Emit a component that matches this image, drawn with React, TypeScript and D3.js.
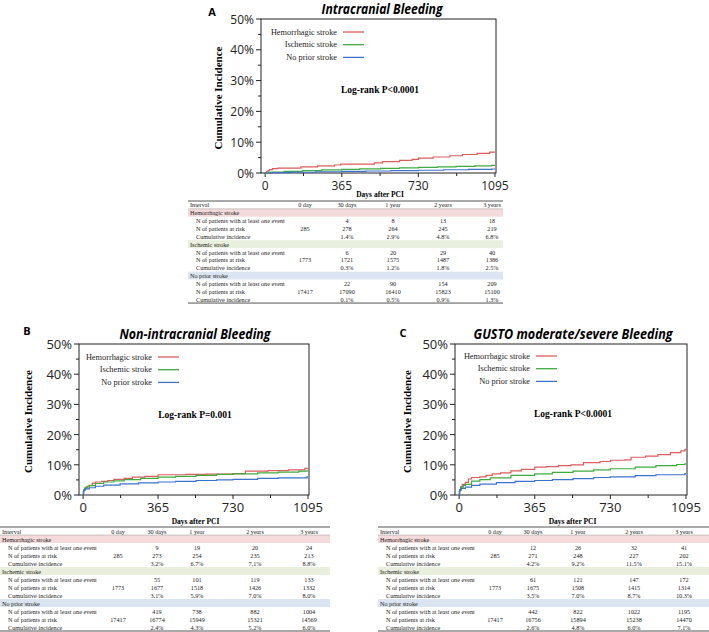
import React from "react";
import * as d3 from "d3";

// ---------- data ----------
const xTicks = [0, 365, 730, 1095];
const xMinorTicks = [182.5, 547.5, 912.5];
const yTicks = [0, 10, 20, 30, 40, 50];
const yMinorTicks = [5, 15, 25, 35, 45];
const seriesNames = ["Hemorrhagic stroke", "Ischemic stroke", "No prior stroke"];
const intervalLabels = ["0 day", "30 days", "1 year", "2 years", "3 years"];
const rowLabels = ["N of patients with at least one event", "N of patients at risk", "Cumulative incidence"];

// Panel A: intracranial bleeding ([day, cumulative %])
const ichHemorrhagic: [number, number][] = [[0, 0], [6, 0.4], [12, 0.7], [20, 1.1], [35, 1.4], [60, 1.6], [170, 2.0], [250, 2.3], [330, 2.6], [360, 2.9], [520, 3.3], [560, 3.7], [640, 4.1], [700, 4.4], [730, 4.8], [800, 5.2], [880, 5.6], [940, 6.0], [1010, 6.4], [1070, 6.8], [1095, 6.8]];
const ichIschemic: [number, number][] = [[0, 0], [10, 0.1], [20, 0.2], [30, 0.3], [90, 0.5], [180, 0.8], [270, 1.0], [365, 1.2], [450, 1.35], [550, 1.5], [640, 1.65], [730, 1.8], [820, 2.0], [910, 2.15], [1000, 2.3], [1080, 2.5], [1095, 2.5]];
const ichNoPrior: [number, number][] = [[0, 0], [30, 0.1], [120, 0.25], [240, 0.4], [365, 0.5], [480, 0.65], [600, 0.8], [730, 0.9], [850, 1.05], [970, 1.2], [1080, 1.3], [1095, 1.3]];

// Panel B: non-intracranial bleeding
const nonIchHemorrhagic: [number, number][] = [[0, 0], [3, 1.5], [8, 2.2], [15, 2.7], [30, 3.2], [45, 3.9], [60, 4.3], [90, 4.5], [120, 4.8], [150, 5.2], [200, 5.5], [240, 5.9], [300, 6.2], [365, 6.7], [500, 6.8], [600, 6.9], [730, 7.1], [790, 7.9], [900, 8.1], [1000, 8.3], [1080, 8.8], [1095, 8.8]];
const nonIchIschemic: [number, number][] = [[0, 0], [2, 1.5], [8, 2.4], [20, 2.9], [30, 3.1], [60, 3.8], [100, 4.3], [150, 4.7], [200, 5.1], [280, 5.5], [365, 5.9], [450, 6.2], [550, 6.5], [650, 6.8], [730, 7.0], [850, 7.3], [950, 7.6], [1050, 7.9], [1090, 8.0], [1095, 8.0]];
const nonIchNoPrior: [number, number][] = [[0, 0], [1, 1.0], [3, 1.6], [10, 2.0], [30, 2.4], [60, 2.9], [100, 3.3], [180, 3.7], [270, 4.0], [365, 4.3], [450, 4.5], [550, 4.8], [650, 5.0], [730, 5.2], [850, 5.5], [950, 5.7], [1090, 6.0], [1095, 6.0]];

// Panel C: GUSTO moderate/severe bleeding
const gustoHemorrhagic: [number, number][] = [[0, 0], [3, 1.8], [8, 2.8], [15, 3.5], [30, 4.2], [45, 5.3], [60, 5.8], [100, 6.0], [130, 6.5], [160, 7.0], [200, 7.3], [250, 8.0], [300, 8.5], [365, 9.2], [420, 9.4], [480, 9.7], [540, 10.0], [600, 10.7], [680, 11.1], [730, 11.5], [800, 11.6], [830, 12.5], [900, 12.9], [960, 13.4], [1020, 14.0], [1070, 14.6], [1090, 15.1], [1095, 15.1]];
const gustoIschemic: [number, number][] = [[0, 0], [2, 1.5], [8, 2.6], [20, 3.2], [30, 3.5], [60, 4.6], [100, 5.1], [150, 5.7], [250, 6.5], [365, 7.0], [450, 7.5], [550, 7.9], [650, 8.3], [730, 8.7], [850, 9.2], [950, 9.7], [1050, 10.1], [1090, 10.3], [1095, 10.3]];
const gustoNoPrior: [number, number][] = [[0, 0], [1, 1.1], [3, 1.7], [10, 2.2], [30, 2.6], [60, 3.2], [100, 3.6], [180, 4.1], [270, 4.5], [365, 4.8], [450, 5.1], [550, 5.4], [650, 5.8], [730, 6.0], [850, 6.4], [950, 6.7], [1090, 7.1], [1095, 7.1]];

// Tables
const ichTableHemorrhagic = [["", "4", "8", "13", "18"], ["285", "278", "264", "245", "219"], ["", "1.4%", "2.9%", "4.8%", "6.8%"]];
const ichTableIschemic = [["", "6", "20", "29", "40"], ["1773", "1721", "1575", "1487", "1386"], ["", "0.3%", "1.2%", "1.8%", "2.5%"]];
const ichTableNoPrior = [["", "22", "90", "154", "209"], ["17417", "17090", "16410", "15823", "15100"], ["", "0.1%", "0.5%", "0.9%", "1.3%"]];

const nonIchTableHemorrhagic = [["", "9", "19", "20", "24"], ["285", "273", "254", "235", "213"], ["", "3.2%", "6.7%", "7.1%", "8.8%"]];
const nonIchTableIschemic = [["", "55", "101", "119", "133"], ["1773", "1677", "1518", "1426", "1332"], ["", "3.1%", "5.9%", "7.0%", "8.0%"]];
const nonIchTableNoPrior = [["", "419", "738", "882", "1004"], ["17417", "16774", "15949", "15321", "14569"], ["", "2.4%", "4.3%", "5.2%", "6.0%"]];

const gustoTableHemorrhagic = [["", "12", "26", "32", "41"], ["285", "271", "248", "227", "202"], ["", "4.2%", "9.2%", "11.5%", "15.1%"]];
const gustoTableIschemic = [["", "61", "121", "147", "172"], ["1773", "1675", "1508", "1415", "1314"], ["", "3.5%", "7.0%", "8.7%", "10.3%"]];
const gustoTableNoPrior = [["", "442", "822", "1022", "1195"], ["17417", "16756", "15894", "15238", "14470"], ["", "2.6%", "4.8%", "6.0%", "7.1%"]];

// ---------- styling ----------
const COLORS = ["#dd5c5c", "#3faa3f", "#3c72cf"];
const BANDS = ["#f4dada", "#e8efdc", "#dbe5f1"];
const SANS = "'Open Sans', 'Liberation Sans', sans-serif";
const SERIF = "'Liberation Serif', 'Times New Roman', serif";

const PANELS = [
  {
    letter: "A", title: "Intracranial Bleeding", titleLen: 121, titleX: 382, titleY: 8, letterX: 212, letterY: 11,
    left: 261, right: 496, top: 19, bottom: 173, tickFont: 12, yLabelX: 218,
    curves: [ichHemorrhagic, ichIschemic, ichNoPrior], pText: "Log-rank P<0.0001", pX: 380, pY: 90,
    legendX: 337, legendY: 32,
    table: { x0: 188, x1: 503, y0: 201, rowH: 7.85, cols: [305, 347, 393, 443, 492], groups: [ichTableHemorrhagic, ichTableIschemic, ichTableNoPrior] },
  },
  {
    letter: "B", title: "Non-intracranial Bleeding", titleLen: 151, titleX: 195, titleY: 333, letterX: 27, letterY: 330,
    left: 79, right: 309, top: 344, bottom: 495, tickFont: 13, yLabelX: 28,
    curves: [nonIchHemorrhagic, nonIchIschemic, nonIchNoPrior], pText: "Log-rank P=0.001", pX: 195, pY: 415,
    legendX: 152, legendY: 357,
    table: { x0: 0, x1: 330, y0: 527, rowH: 8, cols: [118, 157, 197, 255, 309], groups: [nonIchTableHemorrhagic, nonIchTableIschemic, nonIchTableNoPrior] },
  },
  {
    letter: "C", title: "GUSTO moderate/severe Bleeding", titleLen: 199, titleX: 573, titleY: 333, letterX: 403, letterY: 332,
    left: 455, right: 687, top: 344, bottom: 495, tickFont: 13, yLabelX: 407,
    curves: [gustoHemorrhagic, gustoIschemic, gustoNoPrior], pText: "Log-rank P<0.0001", pX: 573, pY: 414,
    legendX: 530, legendY: 356,
    table: { x0: 378, x1: 709, y0: 527, rowH: 8, cols: [495, 533, 578, 634, 684], groups: [gustoTableHemorrhagic, gustoTableIschemic, gustoTableNoPrior] },
  },
];

function Panel({ p }: { p: (typeof PANELS)[number] }) {
  const x = d3.scaleLinear().domain([-20, 1100]).range([p.left, p.right]);
  const y = d3.scaleLinear().domain([0, 50]).range([p.bottom, p.top]);
  const line = d3
    .line<[number, number]>()
    .x((d) => x(d[0]))
    .y((d) => y(d[1]))
    .curve(d3.curveStepAfter);
  const t = p.table;
  const nRows = 13;
  const rowY = (i: number) => t.y0 + t.rowH * (i + 0.5);
  const tFont = 6.2;
  return (
    <g>
      <text x={p.letterX} y={p.letterY} fontFamily={SANS} fontWeight="bold" fontSize={11} textAnchor="middle" dominantBaseline="central">{p.letter}</text>
      <text x={p.titleX} y={p.titleY} fontFamily={SANS} fontWeight="bold" fontStyle="italic" fontSize={14} textAnchor="middle" dominantBaseline="central" textLength={p.titleLen} lengthAdjust="spacingAndGlyphs">{p.title}</text>
      {/* frame */}
      <rect x={p.left} y={p.top} width={p.right - p.left} height={p.bottom - p.top} fill="none" stroke="#222" strokeWidth={1} />
      {/* y ticks */}
      {yTicks.map((v) => (
        <g key={"y" + v}>
          <line x1={p.left - 5} x2={p.left} y1={y(v)} y2={y(v)} stroke="#222" />
          <text x={p.left - 7} y={y(v)} fontFamily={SANS} fontSize={p.tickFont} textAnchor="end" dominantBaseline="central" fill="#222">{v + "%"}</text>
        </g>
      ))}
      {yMinorTicks.map((v) => (
        <line key={"ym" + v} x1={p.left - 3} x2={p.left} y1={y(v)} y2={y(v)} stroke="#222" />
      ))}
      {xTicks.map((v) => (
        <g key={"x" + v}>
          <line x1={x(v)} x2={x(v)} y1={p.bottom} y2={p.bottom + 4} stroke="#222" />
          <text x={x(v)} y={p.bottom + 12} fontFamily={SANS} fontSize={p.tickFont} textAnchor="middle" dominantBaseline="central" fill="#222">{v}</text>
        </g>
      ))}
      {xMinorTicks.map((v) => (
        <line key={"xm" + v} x1={x(v)} x2={x(v)} y1={p.bottom} y2={p.bottom + 3} stroke="#222" />
      ))}
      <text x={(x(0) + x(1095)) / 2} y={p.bottom + (p.letter === "A" ? 21 : 26)} fontFamily={SERIF} fontWeight="bold" fontSize={7.5} textAnchor="middle" dominantBaseline="central">Days after PCI</text>
      <text transform={`translate(${p.yLabelX},${(p.top + p.bottom) / 2 + 2}) rotate(-90)`} fontFamily={SERIF} fontWeight="bold" fontSize={11} textAnchor="middle" dominantBaseline="central">Cumulative Incidence</text>
      {/* curves */}
      {p.curves.map((c, i) => (
        <path key={"c" + i} d={line(c) || ""} fill="none" stroke={COLORS[i]} strokeWidth={1.2} />
      ))}
      {/* legend */}
      {seriesNames.map((n, i) => (
        <g key={"l" + i}>
          <text x={p.legendX} y={p.legendY + i * 12.7} fontFamily={SERIF} fontSize={8.3} textAnchor="end" dominantBaseline="central" fill="#222">{n}</text>
          <line x1={p.legendX + 6} x2={p.legendX + 27} y1={p.legendY + i * 12.7} y2={p.legendY + i * 12.7} stroke={COLORS[i]} strokeWidth={1.3} />
        </g>
      ))}
      <text x={p.pX} y={p.pY} fontFamily={SERIF} fontWeight="bold" fontSize={9.5} textAnchor="middle" dominantBaseline="central">{p.pText}</text>
      {/* table */}
      <g fontFamily={SERIF} fontSize={tFont} fill="#222">
        {seriesNames.map((n, gi) => (
          <rect key={"b" + gi} x={t.x0} y={t.y0 + t.rowH * (1 + gi * 4)} width={t.x1 - t.x0} height={t.rowH} fill={BANDS[gi]} />
        ))}
        <line x1={t.x0} x2={t.x1} y1={t.y0} y2={t.y0} stroke="#555" strokeWidth={1} />
        <line x1={t.x0} x2={t.x1} y1={t.y0 + t.rowH} y2={t.y0 + t.rowH} stroke="#999" strokeWidth={0.5} />
        <line x1={t.x0} x2={t.x1} y1={t.y0 + t.rowH * nRows} y2={t.y0 + t.rowH * nRows} stroke="#555" strokeWidth={1} />
        <text x={t.x0 + 2} y={rowY(0)} dominantBaseline="central">Interval</text>
        {intervalLabels.map((l, ci) => (
          <text key={"h" + ci} x={t.cols[ci]} y={rowY(0)} textAnchor="middle" dominantBaseline="central">{l}</text>
        ))}
        {t.groups.map((g, gi) => (
          <g key={"g" + gi}>
            <text x={t.x0 + 2} y={rowY(1 + gi * 4)} dominantBaseline="central">{seriesNames[gi]}</text>
            {g.map((row, ri) => (
              <g key={"r" + ri}>
                <text x={t.x0 + 8} y={rowY(2 + gi * 4 + ri)} dominantBaseline="central">{rowLabels[ri]}</text>
                {row.map((v, ci) => (
                  <text key={"v" + ci} x={t.cols[ci]} y={rowY(2 + gi * 4 + ri)} textAnchor="middle" dominantBaseline="central">{v}</text>
                ))}
              </g>
            ))}
          </g>
        ))}
      </g>
    </g>
  );
}

export default function App() {
  return (
    <svg width={709} height={632} style={{ position: "absolute", left: 0, top: 0, background: "#fff" }}>
      <rect width={709} height={632} fill="#fff" />
      {PANELS.map((p) => (
        <Panel key={p.letter} p={p} />
      ))}
    </svg>
  );
}
